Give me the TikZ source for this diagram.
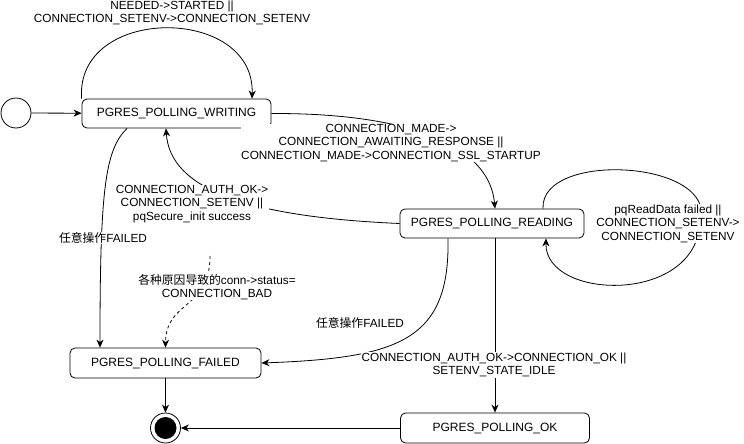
\documentclass[tikz,border=0pt]{standalone}
\usepackage{fontspec}
\setmainfont{Liberation Sans}
\newfontfamily\cjk{Noto Sans CJK SC}
\usetikzlibrary{arrows.meta}
\begin{document}
\begin{tikzpicture}[x=1pt,y=-1pt,
  state/.style={draw, rounded corners=5pt, minimum width=189pt, minimum height=29pt, inner sep=0pt, font=\fontsize{12}{14}\selectfont, line width=0.8pt},
  lbl/.style={fill=white, inner sep=0.5pt, align=center, font=\fontsize{11.8}{13.5}\selectfont},
  conn/.style={line width=0.8pt, -{Stealth[length=8pt,width=7pt,inset=2.5pt]}},
  dashconn/.style={conn, dash pattern=on 3pt off 3pt}
]
\useasboundingbox (0,0) rectangle (744,444);
% nodes
\node[circle, draw, line width=0.8pt, minimum size=30pt, inner sep=0pt] (init) at (16,113) {};
\node[state, minimum width=189pt] (W) at (176.5,113.5) {PGRES\_POLLING\_WRITING};
\node[state, minimum width=184pt] (R) at (492,223.5) {PGRES\_POLLING\_READING};
\node[state, minimum width=191pt, minimum height=30pt] (F) at (165.5,363) {PGRES\_POLLING\_FAILED};
\node[state, minimum width=189pt, minimum height=30pt] (OK) at (495,428) {PGRES\_POLLING\_OK};
\node[circle, draw, line width=0.8pt, minimum size=30pt, inner sep=0pt] (fin) at (165.5,428) {};
\node[circle, fill=black, minimum size=22pt, inner sep=0pt] (finin) at (fin) {};
\coordinate (dstart) at (210,256);
% connectors
\draw[conn] (init) -- (W);
\draw[conn] (W.north west) .. controls (75,5) and (255,5) .. ([xshift=75.5]W.north);
\draw[conn] (W.east) .. controls (420,113) and (490,150) .. ([xshift=3]R.north);
\draw[conn] (R.west) .. controls (250,217) and (170,190) .. ([xshift=-10.5]W.south);
\draw[conn] ([xshift=-49.5]W.south) .. controls (105,150) and (100,190) .. ([xshift=-65.5]F.north);
\draw[dashconn] (dstart) .. controls (210,310) and (166,300) .. (F.north);
\draw[conn] ([xshift=-44]R.south) .. controls (450,340) and (400,358) .. (F.east);
\draw[conn] ([xshift=3]R.south) -- (OK.north);
\draw[conn] ([xshift=51]R.north) .. controls (540,150) and (720,160) .. (700,223) .. controls (695,305) and (545,300) .. ([xshift=54]R.south);
\draw[conn] (F) -- (fin);
\draw[conn] (OK) -- (fin);
% labels
\node[lbl] (l1) at (172,13) {NEEDED->STARTED ||\\CONNECTION\_SETENV->CONNECTION\_SETENV};
\node[lbl] (l2) at (391,143) {CONNECTION\_MADE->\\CONNECTION\_AWAITING\_RESPONSE ||\\CONNECTION\_MADE->CONNECTION\_SSL\_STARTUP};
\node[lbl] (l3) at (192,204) {CONNECTION\_AUTH\_OK->\\CONNECTION\_SETENV ||\\pqSecure\_init success};
\node[lbl] (l4) at (668,223.5) {pqReadData failed ||\\CONNECTION\_SETENV->\\CONNECTION\_SETENV};
\node[lbl] (l5) at (103,238) {{\cjk 任意操作}FAILED};
\node[lbl] (l6) at (217,287) {{\cjk 各种原因导致的}conn->status=\\CONNECTION\_BAD};
\node[lbl] (l7) at (360,323) {{\cjk 任意操作}FAILED};
\node[lbl] (l8) at (494,365) {CONNECTION\_AUTH\_OK->CONNECTION\_OK ||\\SETENV\_STATE\_IDLE};
\end{tikzpicture}
\end{document}
